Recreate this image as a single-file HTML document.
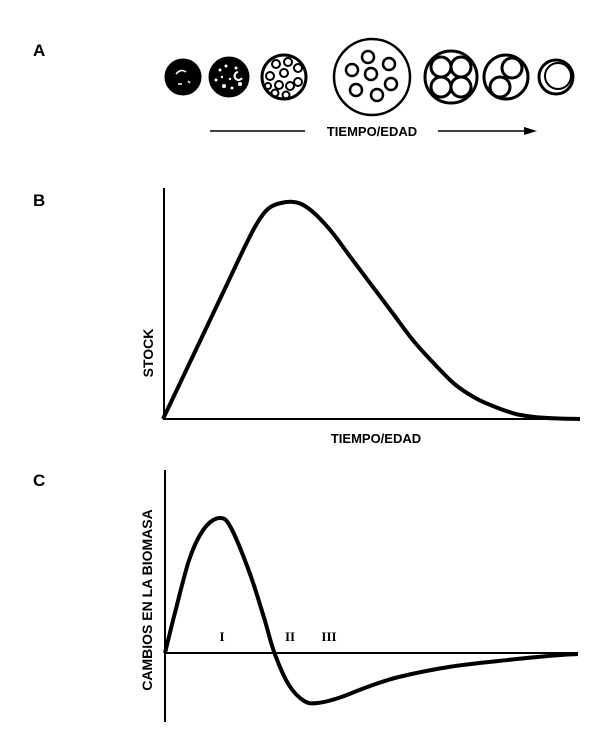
<!DOCTYPE html>
<html><head><meta charset="utf-8"><style>
html,body{margin:0;padding:0;background:#fff;}
svg{display:block;font-family:"Liberation Sans",sans-serif;font-weight:bold;}
</style></head><body>
<svg width="600" height="739" viewBox="0 0 600 739">
<text x="33" y="56" font-size="17">A</text>
<text x="33" y="206" font-size="17">B</text>
<text x="33" y="486" font-size="17">C</text>

<g id="cells" stroke="#000" fill="none" stroke-width="3">
  <g>
    <circle cx="183" cy="77" r="17" fill="#000"/>
    <path d="M176,74 q5,-6 10,-2" stroke="#fff" stroke-width="1.5"/>
    <path d="M178,84 l4,0 M188,81 l2,2" stroke="#fff" stroke-width="1.5"/>
  </g>
  <g>
    <circle cx="229" cy="77" r="19" fill="#000"/>
    <g fill="#fff" stroke="none">
      <circle cx="220" cy="70" r="1.5"/><circle cx="226" cy="66" r="1.5"/><circle cx="236" cy="68" r="1.5"/>
      <circle cx="216" cy="80" r="1.5"/><circle cx="224" cy="86" r="2"/><circle cx="232" cy="88" r="1.5"/>
      <circle cx="240" cy="84" r="2"/><circle cx="222" cy="77" r="1.2"/><circle cx="230" cy="79" r="1.2"/>
    </g>
    <path d="M238,72 a4,4 0 1 0 4,6" stroke="#fff" stroke-width="2"/>
  </g>
  <g>
    <circle cx="284" cy="77" r="22"/>
    <g stroke-width="2">
      <circle cx="276" cy="64" r="4"/><circle cx="288" cy="62" r="4"/><circle cx="298" cy="68" r="4"/>
      <circle cx="270" cy="76" r="4"/><circle cx="284" cy="73" r="4"/><circle cx="298" cy="82" r="4"/>
      <circle cx="279" cy="85" r="4"/><circle cx="290" cy="86" r="4"/><circle cx="275" cy="93" r="3.5"/>
      <circle cx="286" cy="95" r="3.5"/><circle cx="268" cy="86" r="3"/>
    </g>
  </g>
  <g>
    <circle cx="372" cy="77" r="38" stroke-width="2.5"/>
    <g stroke-width="2.5">
      <circle cx="368" cy="57" r="6"/><circle cx="389" cy="64" r="6"/><circle cx="352" cy="70" r="6"/>
      <circle cx="371" cy="74" r="6"/><circle cx="391" cy="84" r="6"/><circle cx="356" cy="90" r="6"/>
      <circle cx="377" cy="95" r="6"/>
    </g>
  </g>
  <g>
    <circle cx="451" cy="77" r="26"/>
    <circle cx="441" cy="67" r="10"/><circle cx="461" cy="67" r="10"/>
    <circle cx="441" cy="87" r="10"/><circle cx="461" cy="87" r="10"/>
  </g>
  <g>
    <circle cx="506" cy="77" r="22"/>
    <circle cx="512" cy="68" r="10"/><circle cx="500" cy="87" r="10"/>
  </g>
  <g>
    <circle cx="556" cy="77" r="17"/>
    <circle cx="558" cy="76" r="13" stroke-width="2"/>
  </g>
</g>

<g>
  <line x1="210" y1="131" x2="305" y2="131" stroke="#000" stroke-width="1.5"/>
  <line x1="438" y1="131" x2="528" y2="131" stroke="#000" stroke-width="1.5"/>
  <polygon points="537,131 524,127 524,135" fill="#000"/>
  <text x="372" y="136" font-size="13" text-anchor="middle">TIEMPO/EDAD</text>
</g>

<g>
  <line x1="164" y1="188" x2="164" y2="420" stroke="#000" stroke-width="2"/>
  <line x1="163" y1="419" x2="580" y2="419" stroke="#000" stroke-width="2"/>
  <text transform="translate(153,353) rotate(-90)" font-size="14" text-anchor="middle">STOCK</text>
  <text x="376" y="443" font-size="13" text-anchor="middle">TIEMPO/EDAD</text>
  <path id="curveB" fill="none" stroke="#000" stroke-width="4"/>
</g>

<g>
  <line x1="165" y1="470" x2="165" y2="722" stroke="#000" stroke-width="2"/>
  <line x1="165" y1="653" x2="578" y2="653" stroke="#000" stroke-width="2"/>
  <text transform="translate(152,600) rotate(-90)" font-size="14" text-anchor="middle">CAMBIOS EN LA BIOMASA</text>
  <text x="222" y="641" font-size="13" text-anchor="middle" font-family="Liberation Serif">I</text>
  <text x="290" y="641" font-size="13" text-anchor="middle" font-family="Liberation Serif">II</text>
  <text x="329" y="641" font-size="13" text-anchor="middle" font-family="Liberation Serif">III</text>
  <path id="curveC" fill="none" stroke="#000" stroke-width="4"/>
</g>
</svg>
<script>
const bTime=[0,5,10,15,20,23,26,31,35,40,45,50,55,60,65,70,75,80,85,90,95,100];
const bStock=[0,19,38,57,76,86,92,94,91,82,70,58,46,34,24,15,9,5,2,0.7,0.2,0];
const cTime=[0,2.4,6,9.6,13.3,16,20.5,24,26.5,30,33.7,36.9,42,49,56.6,68.7,80.7,92.8,100];
const cChange=[0,40,95,125,135,125,80,35,0,-32,-48,-50,-45,-34,-24,-14,-8,-3,-1];

const bx=t=>163+t*4.17, by=v=>419-v*2.31;
const cx=t=>165+t*4.13, cy=v=>653-v*1.0;

function smooth(pts){
  let d="M"+pts[0][0]+","+pts[0][1];
  for(let i=0;i<pts.length-1;i++){
    const p0=pts[i-1]||pts[i],p1=pts[i],p2=pts[i+1],p3=pts[i+2]||p2;
    const c1=[p1[0]+(p2[0]-p0[0])/6,p1[1]+(p2[1]-p0[1])/6];
    const c2=[p2[0]-(p3[0]-p1[0])/6,p2[1]-(p3[1]-p1[1])/6];
    d+=" C"+c1.join(",")+" "+c2.join(",")+" "+p2.join(",");
  }
  return d;
}
document.getElementById('curveB').setAttribute('d',smooth(bTime.map((t,i)=>[bx(t),by(bStock[i])])));
document.getElementById('curveC').setAttribute('d',smooth(cTime.map((t,i)=>[cx(t),cy(cChange[i])])));
</script>
</body></html>
